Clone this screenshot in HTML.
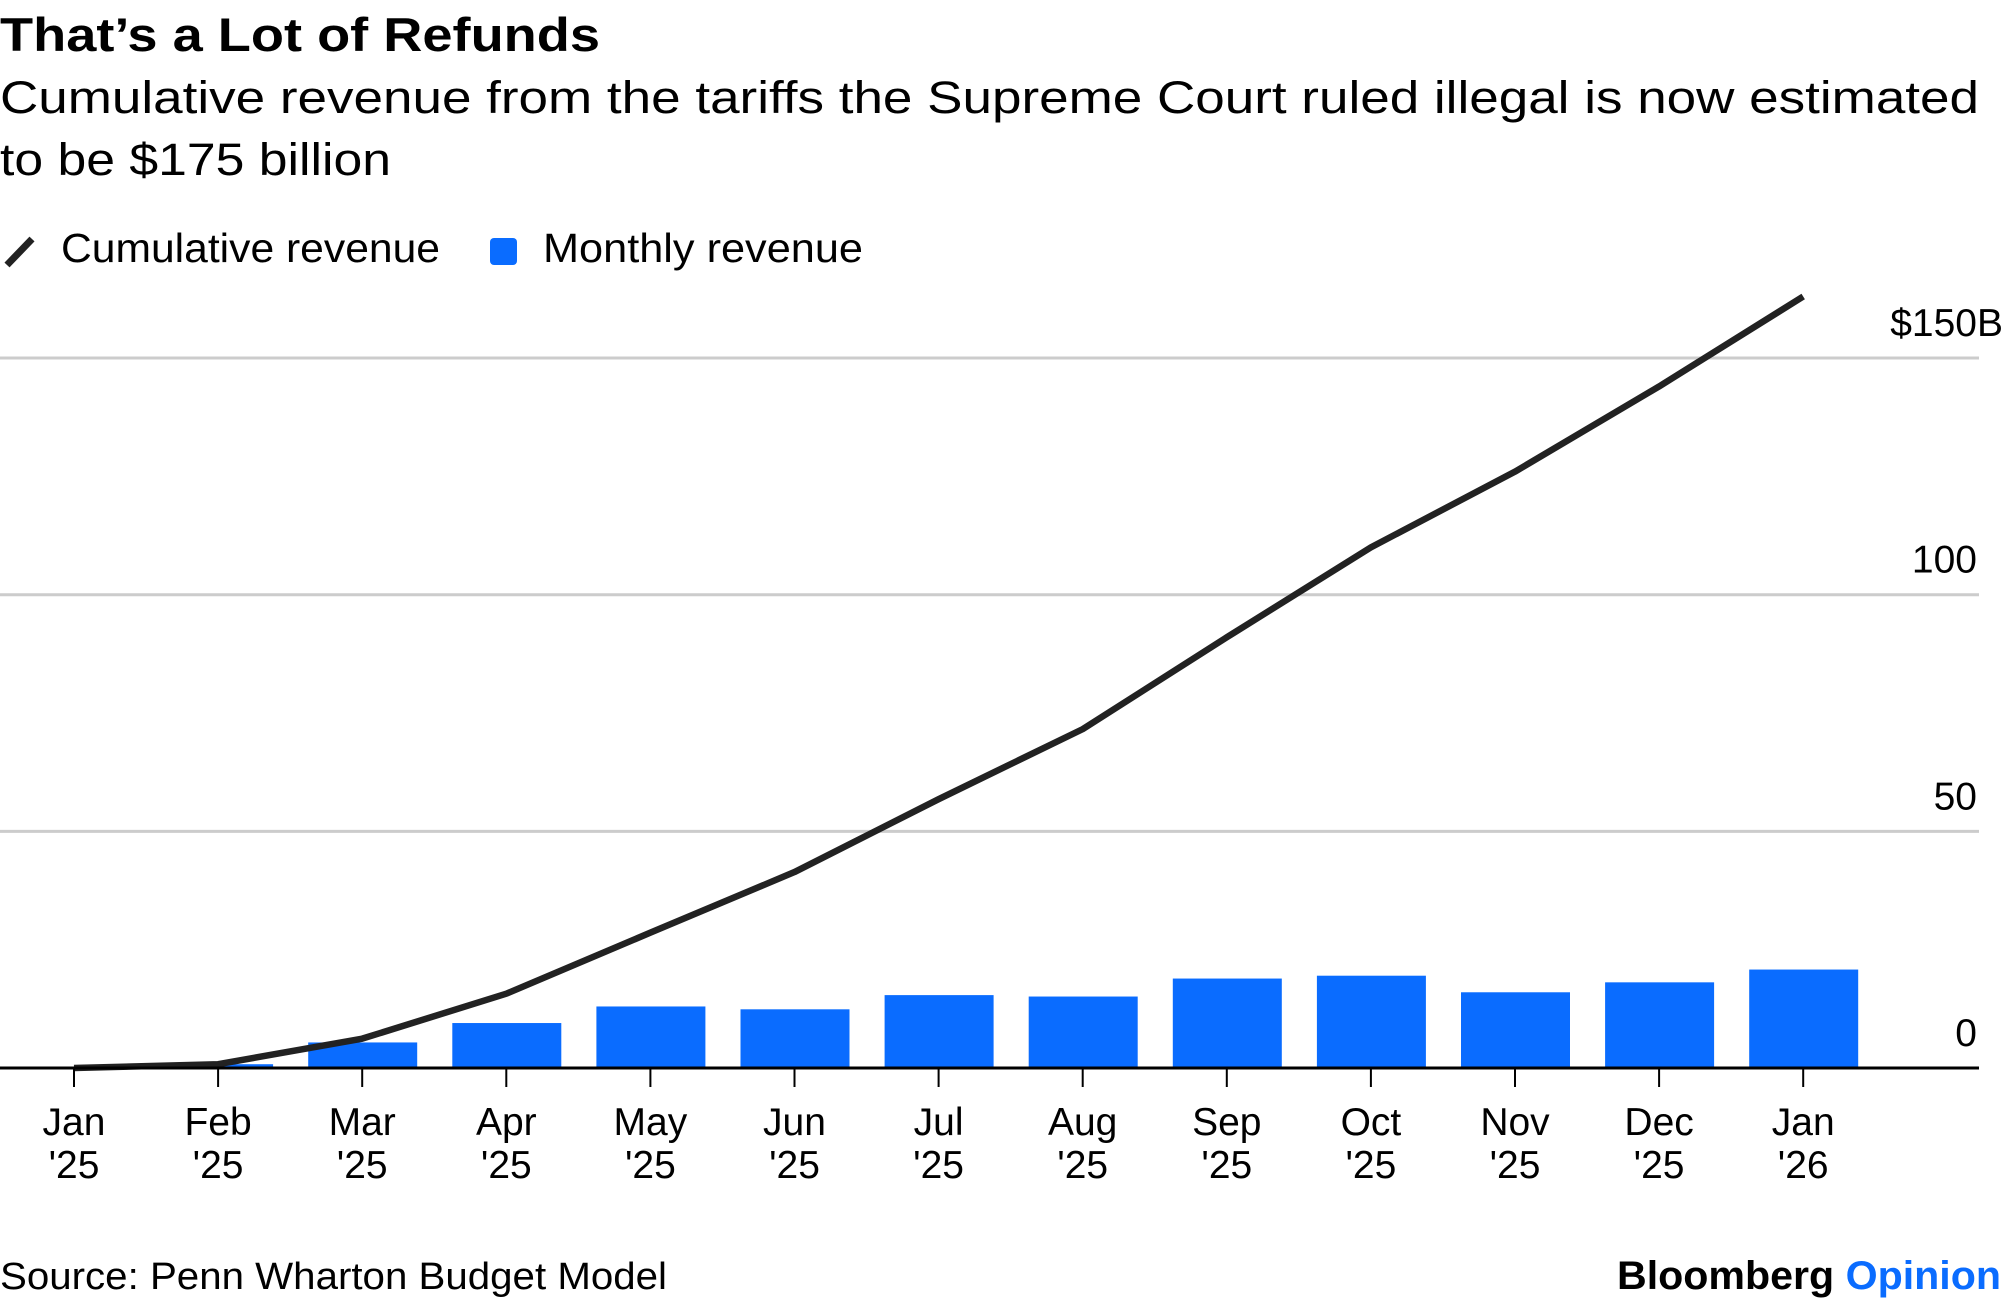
<!DOCTYPE html>
<html><head><meta charset="utf-8"><style>
html,body{margin:0;padding:0;background:#fff;width:2005px;height:1302px;overflow:hidden}
svg{display:block;font-family:"Liberation Sans",sans-serif}
</style></head><body>
<svg id="chart" width="2005" height="1302" viewBox="0 0 2005 1302">
<text x="0" y="51" font-size="47" font-weight="bold" fill="#000" textLength="600" lengthAdjust="spacingAndGlyphs">That’s a Lot of Refunds</text>
<text x="0" y="113" font-size="45" fill="#000" textLength="1979" lengthAdjust="spacingAndGlyphs">Cumulative revenue from the tariffs the Supreme Court ruled illegal is now estimated</text>
<text x="0" y="175" font-size="45" fill="#000" textLength="391" lengthAdjust="spacingAndGlyphs">to be $175 billion</text>
<g>
<line x1="7" y1="265" x2="32" y2="239" stroke="#222" stroke-width="7"/>
<text x="61" y="262" font-size="41" textLength="379" lengthAdjust="spacingAndGlyphs">Cumulative revenue</text>
<rect x="490" y="238" width="27" height="27" rx="4" fill="#0a6cff"/>
<text x="543" y="262" font-size="41" textLength="320" lengthAdjust="spacingAndGlyphs">Monthly revenue</text>
</g>
<g id="grid"></g><g id="bars"></g><g id="line"></g><g id="xaxis"></g>
<text x="0" y="1289" font-size="38" textLength="667" lengthAdjust="spacingAndGlyphs">Source: Penn Wharton Budget Model</text>
<text x="1617" y="1289" font-size="40" font-weight="bold" textLength="384" lengthAdjust="spacingAndGlyphs">Bloomberg <tspan fill="#0a6cff">Opinion</tspan></text>
</svg>
<script>
const categories = ["Jan|'25","Feb|'25","Mar|'25","Apr|'25","May|'25","Jun|'25","Jul|'25","Aug|'25","Sep|'25","Oct|'25","Nov|'25","Dec|'25","Jan|'26"];
const monthly = [0, 0.8, 5.4, 9.5, 13, 12.4, 15.4, 15.1, 18.9, 19.5, 16, 18.1, 20.8];
const cumulative = [0, 0.8, 6.2, 15.7, 28.6, 41.4, 56.8, 71.6, 91, 110, 126, 144, 163];
const yTicks = [0, 50, 100, 150];
const yTickLabels = ["0", "50", "100", "$150B"];

const NS = "http://www.w3.org/2000/svg";
const x = i => 74 + i * 144.1;
const y = v => 1068 - v * 4.733;
function mk(tag, attrs, parent) {
  const e = document.createElementNS(NS, tag);
  for (const k in attrs) e.setAttribute(k, attrs[k]);
  parent.appendChild(e);
  return e;
}
const grid = document.getElementById('grid');
yTicks.forEach((t, i) => {
  if (t !== 0) {
    const l = mk('line', {x1: 0, x2: 1979, y1: y(t), y2: y(t), stroke: '#ccc', 'stroke-width': 3}, grid);
    
    
  }
  const isLast = i === yTicks.length - 1;
  const tx = mk('text', {x: isLast ? 2003 : 1977, y: y(t) - 22, 'font-size': 39, 'text-anchor': 'end'}, grid);
  tx.textContent = yTickLabels[i];
  
  
});
const bars = document.getElementById('bars');
monthly.forEach((v, i) => {
  if (v <= 0) return;
  const r = mk('rect', {x: x(i) - 54, y: y(v), width: 109, height: y(0) - y(v), fill: '#0a6cff'}, bars);
  
  
});
const lg = document.getElementById('line');
const pts = cumulative.map((v, i) => x(i) + ',' + y(v)).join(' ');
const pl = mk('polyline', {points: pts, fill: 'none', stroke: '#222', 'stroke-width': 6.5, 'stroke-linejoin': 'round'}, lg);


const xa = document.getElementById('xaxis');
const base = mk('line', {x1: 0, x2: 1979, y1: y(0), y2: y(0), stroke: '#000', 'stroke-width': 3}, xa);


categories.forEach((c, i) => {
  const t = mk('line', {x1: x(i), x2: x(i), y1: y(0), y2: y(0) + 19, stroke: '#000', 'stroke-width': 2}, xa);
  
  
  const parts = c.split('|');
  [1135, 1178].forEach((yy, j) => {
    const tx = mk('text', {x: x(i), y: yy, 'font-size': 39, 'text-anchor': 'middle'}, xa);
    tx.textContent = parts[j];
    
    
  });
});
</script>
</body></html>
